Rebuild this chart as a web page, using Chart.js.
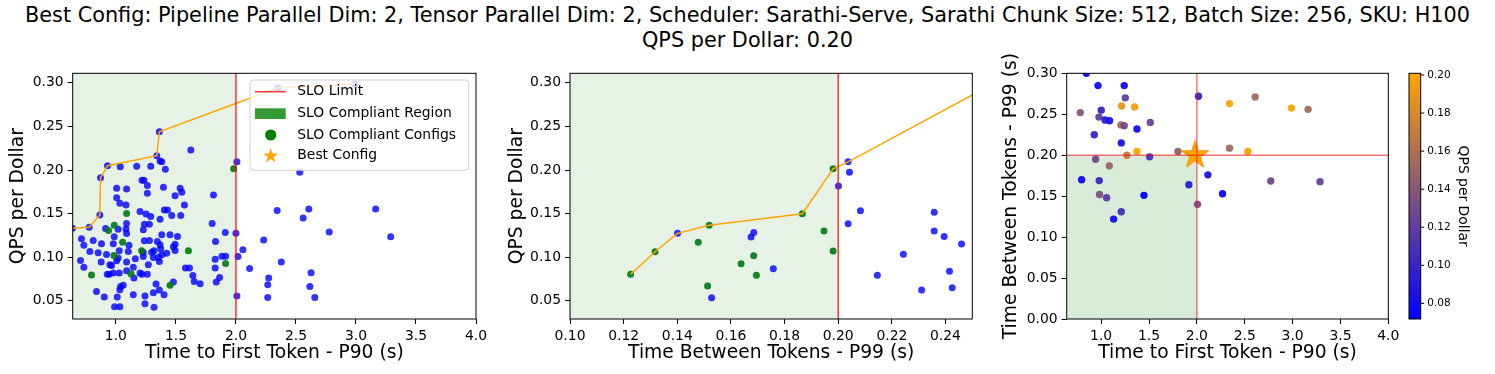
<!DOCTYPE html>
<html>
<head>
<meta charset="utf-8">
<script src="https://cdn.jsdelivr.net/npm/chart.js@4.4.0/dist/chart.umd.min.js"></script>
<style>
  body { margin: 0; background: #fff; }
  #wrap { position: relative; width: 1495px; height: 374px; overflow: hidden; }
  #title { position: absolute; left: 0; top: 3px; width: 1495px; text-align: center;
           font-family: 'DejaVu Sans'; font-size: 20.8px; line-height: 25px; color: #000; white-space: nowrap; }
  canvas { position: absolute; }
</style>
</head>
<body>
<div id="wrap">
  <div id="title">Best Config: Pipeline Parallel Dim: 2, Tensor Parallel Dim: 2, Scheduler: Sarathi-Serve, Sarathi Chunk Size: 512, Batch Size: 256, SKU: H100<br>QPS per Dollar: 0.20</div>
  <canvas id="c1" width="490" height="324" style="left:0;top:50px"></canvas>
  <canvas id="c2" width="500" height="324" style="left:490px;top:50px"></canvas>
  <canvas id="c3" width="505" height="324" style="left:990px;top:50px"></canvas>
</div>
<script>
// ---- data ----
const ttftTicks = [1.0, 1.5, 2.0, 2.5, 3.0, 3.5, 4.0];
const tbtTicks = [0.10, 0.12, 0.14, 0.16, 0.18, 0.20, 0.22, 0.24];
const qpsTicks = [0.05, 0.10, 0.15, 0.20, 0.25, 0.30];
const tbtYTicks = [0.00, 0.05, 0.10, 0.15, 0.20, 0.25, 0.30];
const cbarTicks = [0.08, 0.10, 0.12, 0.14, 0.16, 0.18, 0.20];
const ttftSlo = 2.0;
const tbtSlo = 0.2;
const cbarMin = 0.0718, cbarMax = 0.2009;

// TTFT vs QPS/$
const leftBlue = [
  [0.638,0.1332],[0.777,0.1344],[0.866,0.1485],[0.872,0.1912],[0.930,0.2050],[1.036,0.2038],[1.173,0.2042],[1.290,0.2042],
  [1.340,0.2164],[1.362,0.2440],[1.624,0.2229],[1.368,0.2103],[1.382,0.2095],[1.412,0.2008],
  [1.217,0.1882],[1.234,0.1882],[1.262,0.1821],[1.262,0.1733],[1.396,0.1802],[1.006,0.1790],[1.089,0.1782],[1.006,0.1683],
  [1.033,0.1618],[1.084,0.1599],[1.535,0.1790],[1.549,0.1744],[1.493,0.1706],[1.571,0.1599],[1.813,0.1714],
  [1.201,0.1523],[1.251,0.1496],[1.290,0.1466],[1.404,0.1542],[1.429,0.1542],[1.368,0.1435],[1.465,0.1477],[1.540,0.1477],
  [1.802,0.1386],[1.237,0.1378],[1.279,0.1378],[1.228,0.1313],[1.089,0.1386],[1.084,0.1324],
  [0.914,0.1328],[1.019,0.1321],[1.089,0.1271],[1.382,0.1256],[1.451,0.1256],[1.513,0.1237],[1.911,0.1282],
  [0.713,0.1210],[0.733,0.1137],[0.811,0.1191],[0.880,0.1153],[0.986,0.1233],[0.978,0.1153],[1.109,0.1137],[1.237,0.1187],
  [1.279,0.1191],[1.345,0.1179],[1.368,0.1141],[1.493,0.1149],[1.479,0.1118],[1.830,0.1179],
  [0.783,0.1065],[0.852,0.1050],[0.922,0.1031],[1.028,0.1073],[1.103,0.1065],[1.228,0.1057],[1.298,0.1057],[1.373,0.1095],
  [1.318,0.1073],[1.423,0.1046],[1.493,0.1076],
  [0.705,0.0962],[0.733,0.0885],[0.877,0.0943],[1.006,0.0958],[0.950,0.0912],[0.964,0.0905],[1.089,0.0943],[1.162,0.0981],
  [1.228,0.1008],[1.312,0.0996],[1.270,0.0912],[1.354,0.0996],[1.362,0.0950],[1.382,0.1027],[1.019,0.0989],[1.827,0.0977],
  [1.883,0.1011],[1.914,0.1011],[1.579,0.0874],[1.613,0.0874],[1.827,0.0874],
  [0.928,0.0805],[0.944,0.0805],[0.978,0.0817],[1.028,0.0817],[1.089,0.0844],[1.145,0.0885],[1.150,0.0760],[1.201,0.0817],
  [1.217,0.0805],[1.262,0.0805],[1.641,0.0790],[1.652,0.0721],[1.702,0.0695],[1.836,0.0714],[1.864,0.0767],[1.479,0.0714],
  [1.334,0.0691],
  [0.838,0.0607],[0.903,0.0542],[1.011,0.0542],[1.039,0.0664],[1.061,0.0676],[1.033,0.0626],[1.145,0.0569],[1.242,0.0553],
  [1.312,0.0592],[1.362,0.0622],[1.401,0.0569],[0.989,0.0431],[1.033,0.0431],[1.242,0.0466],[1.318,0.0424],
  [2.008,0.2095],[2.000,0.1275],[2.017,0.1008],[2.058,0.1084],[2.114,0.0870],[2.008,0.0553],[2.231,0.1198],[2.378,0.0944],
  [2.273,0.0760],[2.265,0.0683],[2.265,0.0538],[2.343,0.1534],[2.560,0.1448],[2.607,0.1553],[2.532,0.1973],[2.626,0.0821],
  [2.616,0.0664],[2.657,0.0538],[2.351,0.2943],[2.991,0.2985],[3.164,0.1552],[2.777,0.1288],[3.289,0.1234]
];
const leftGreen = [
  [1.981,0.2015],[1.089,0.1500],[0.986,0.1366],[0.939,0.1305],[1.056,0.1172],[0.983,0.1019],
  [1.214,0.1073],[1.604,0.1073],[1.914,0.0927],[0.797,0.0794],[1.125,0.0809],[1.451,0.0676]
];
const leftFrontier = [
  [0.638,0.1332],[0.777,0.1344],[0.866,0.1485],[0.872,0.1912],[0.930,0.2050],
  [1.340,0.2164],[1.362,0.2440],[2.351,0.2943],[2.991,0.2985]
];

// TBT vs QPS/$
const midGreen = [
  [0.1226,0.0803],[0.1317,0.1062],[0.1478,0.1170],[0.1519,0.1365],[0.1513,0.0669],[0.1638,0.0924],
  [0.1685,0.1016],[0.1695,0.0791],[0.1866,0.1498],[0.1947,0.1300],[0.1981,0.1070],[0.1981,0.2014]
];
const midBlue = [
  [0.1401,0.1273],[0.1528,0.0534],[0.1675,0.1230],[0.1685,0.1284],[0.1758,0.0867],[0.2037,0.2094],[0.2042,0.1973],
  [0.2001,0.1816],[0.2083,0.1532],[0.2037,0.1383],[0.2146,0.0791],[0.2243,0.1032],[0.2311,0.0623],[0.2358,0.1514],
  [0.2358,0.1299],[0.2395,0.1238],[0.2415,0.0837],[0.2425,0.0649],[0.2460,0.1150]
];
const midFrontier = [
  [0.1226,0.0803],[0.1317,0.1062],[0.1401,0.1273],[0.1519,0.1365],[0.1866,0.1498],
  [0.1981,0.2014],[0.2037,0.2094],[0.255,0.2943],[0.262,0.2985]
];

// TTFT vs TBT, coloured by QPS/$  [ttft, tbt, qps]
const rightPts = [
  [0.845,0.300,0.075],[0.967,0.285,0.08],[1.241,0.285,0.08],[1.252,0.270,0.12],[0.782,0.252,0.14],[1.001,0.255,0.10],
  [0.977,0.2465,0.12],[1.040,0.243,0.09],[1.088,0.242,0.085],[1.214,0.260,0.19],[1.349,0.259,0.195],[1.207,0.237,0.155],
  [1.241,0.236,0.13],[1.513,0.240,0.125],[0.928,0.225,0.10],[1.374,0.232,0.08],[1.210,0.215,0.085],[1.374,0.2045,0.20],
  [1.269,0.200,0.17],[1.802,0.2045,0.145],[1.506,0.198,0.107],[0.942,0.195,0.13],[1.085,0.187,0.15],[0.796,0.170,0.079],
  [0.980,0.169,0.10],[0.983,0.152,0.137],[1.057,0.148,0.117],[1.447,0.151,0.068],[1.130,0.122,0.081],[1.210,0.131,0.107],
  [1.916,0.164,0.093],[2.017,0.272,0.10],[2.007,0.140,0.13],[2.341,0.263,0.29],[2.341,0.2086,0.153],[2.532,0.2045,0.197],
  [2.115,0.176,0.086],[2.268,0.153,0.076],[2.609,0.271,0.155],[2.988,0.2575,0.30],[3.162,0.256,0.155],[2.772,0.1685,0.129],
  [3.287,0.1677,0.123]
];
const bestConfig = [1.98, 0.20];

// ---- helpers ----
Chart.defaults.font.family = "'DejaVu Sans'";
Chart.defaults.color = '#000';

const pts = arr => arr.map(p => ({x: p[0], y: p[1]}));

function cmap(v) {
  let t = (v - cbarMin) / (cbarMax - cbarMin);
  t = Math.max(0, Math.min(1, t));
  return 'rgba(' + Math.round(255 * t) + ',' + Math.round(165 * t) + ',' + Math.round(255 * (1 - t)) + ',0.95)';
}

function starPath(ctx, cx, cy, R) {
  const r = R * 0.382;
  ctx.beginPath();
  for (let i = 0; i < 10; i++) {
    const a = -Math.PI / 2 + i * Math.PI / 5;
    const rr = i % 2 ? r : R;
    ctx.lineTo(cx + rr * Math.cos(a), cy + rr * Math.sin(a));
  }
  ctx.closePath();
}
const starImg = document.createElement('canvas');
starImg.width = 32; starImg.height = 32;
(function () {
  const c = starImg.getContext('2d');
  starPath(c, 16, 16, 14.7);
  c.fillStyle = 'rgb(255,165,0)';
  c.fill();
  c.strokeStyle = 'rgb(245,150,0)';
  c.stroke();
})();

const TOP = 23.3;   // chart area top inside each canvas
const AXIS_TITLE = 18.7;

function axis(o) {
  return {
    type: 'linear', position: o.pos, min: o.min, max: o.max,
    afterBuildTicks: s => { s.ticks = o.ticks.map(v => ({value: v})); },
    afterFit: s => {
      if (o.pos === 'bottom') s.height = o.size; else s.width = o.size;
      s.paddingLeft = 0; s.paddingRight = 0; s.paddingTop = 0; s.paddingBottom = 0;
    },
    ticks: { callback: v => Number(v).toFixed(o.dec), color: '#000', font: {size: 13.9}, padding: 4,
             autoSkip: false, maxRotation: 0 },
    grid: { drawOnChartArea: false, drawTicks: true, tickLength: 5, tickColor: '#000', tickWidth: 1 },
    border: { display: false },
    title: { display: true, text: o.title, color: '#000', font: {size: AXIS_TITLE}, padding: o.tpad }
  };
}

const frame = {
  id: 'frame',
  afterDraw(chart) {
    const {ctx, chartArea: a} = chart;
    ctx.save();
    ctx.strokeStyle = '#000';
    ctx.lineWidth = 1;
    ctx.strokeRect(a.left, a.top, a.right - a.left, a.bottom - a.top);
    ctx.restore();
  }
};

const slo = {
  id: 'slo',
  beforeDatasetsDraw(chart, args, o) {
    const {ctx, chartArea: a, scales: {x, y}} = chart;
    const px = x.getPixelForValue(o.x);
    const py = o.y != null ? y.getPixelForValue(o.y) : a.top;
    ctx.save();
    ctx.fillStyle = o.fill;
    ctx.fillRect(a.left, py, px - a.left, a.bottom - py);
    ctx.restore();
  },
  afterDatasetsDraw(chart, args, o) {
    const {ctx, chartArea: a, scales: {x, y}} = chart;
    ctx.save();
    ctx.strokeStyle = o.line;
    ctx.lineWidth = 1.5;
    ctx.beginPath();
    const px = x.getPixelForValue(o.x);
    ctx.moveTo(px, a.top); ctx.lineTo(px, a.bottom);
    if (o.y != null) {
      const py = y.getPixelForValue(o.y);
      ctx.moveTo(a.left, py); ctx.lineTo(a.right, py);
    }
    ctx.stroke();
    ctx.restore();
  }
};

const legendBox = {
  id: 'legendBox',
  afterDraw(chart) {
    const ctx = chart.ctx;
    const a = chart.chartArea;
    const bx = 250, by = a.top + 6.7, bw = 218.7, bh = 90.3;
    const rows = [by + 11.7, by + 33.7, by + 55, by + 75.7];
    ctx.save();
    ctx.beginPath();
    ctx.roundRect(bx, by, bw, bh, 4);
    ctx.fillStyle = 'rgba(255,255,255,0.8)';
    ctx.fill();
    ctx.strokeStyle = 'rgba(204,204,204,0.9)';
    ctx.lineWidth = 1;
    ctx.stroke();
    // handles
    ctx.strokeStyle = 'rgba(255,0,0,0.8)';
    ctx.lineWidth = 1.5;
    ctx.beginPath(); ctx.moveTo(255, rows[0]); ctx.lineTo(285.7, rows[0]); ctx.stroke();
    ctx.fillStyle = 'rgba(0,128,0,0.8)';
    ctx.fillRect(255, rows[1] - 5.4, 30.7, 10.7);
    ctx.fillStyle = 'rgb(0,128,0)';
    ctx.beginPath(); ctx.arc(270.7, rows[2], 5.6, 0, Math.PI * 2); ctx.fill();
    starPath(ctx, 270.7, rows[3] + 0.3, 8);
    ctx.fillStyle = 'rgb(255,165,0)';
    ctx.fill();
    // labels
    ctx.fillStyle = '#000';
    ctx.font = "13.9px 'DejaVu Sans'";
    ctx.textBaseline = 'middle';
    ctx.fillText('SLO Limit', 297.3, rows[0]);
    ctx.fillText('SLO Compliant Region', 297.3, rows[1]);
    ctx.fillText('SLO Compliant Configs', 297.3, rows[2]);
    ctx.fillText('Best Config', 297.3, rows[3]);
    ctx.restore();
  }
};

const cbar = {
  id: 'cbar',
  afterDraw(chart) {
    const s = chart.scales.y2, ctx = chart.ctx;
    const x0 = s.left + 20.7, w = 11.7;
    const top = s.getPixelForValue(cbarMax), bot = s.getPixelForValue(cbarMin);
    ctx.save();
    const g = ctx.createLinearGradient(0, bot, 0, top);
    g.addColorStop(0, 'rgb(0,0,255)');
    g.addColorStop(1, 'rgb(255,165,0)');
    ctx.fillStyle = g;
    ctx.fillRect(x0, top, w, bot - top);
    ctx.strokeStyle = '#000';
    ctx.lineWidth = 1;
    ctx.strokeRect(x0, top, w, bot - top);
    ctx.beginPath();
    cbarTicks.forEach(t => {
      const py = s.getPixelForValue(t);
      ctx.moveTo(x0 + w, py); ctx.lineTo(x0 + w + 3.5, py);
    });
    ctx.stroke();
    ctx.restore();
  }
};

const common = { responsive: false, animation: false, events: [] };

// ---- left: TTFT vs QPS per dollar ----
new Chart(document.getElementById('c1'), {
  type: 'scatter',
  data: { datasets: [
    { data: pts(leftFrontier), showLine: true, borderColor: 'rgb(255,165,0)', borderWidth: 1.5, pointRadius: 0, order: 0 },
    { data: pts(leftGreen), backgroundColor: 'rgba(0,120,20,0.9)', pointRadius: 3.5, pointBorderWidth: 0, order: 1 },
    { data: pts(leftBlue), backgroundColor: 'rgba(0,0,255,0.8)', pointRadius: 3.5, pointBorderWidth: 0, order: 2 }
  ]},
  options: Object.assign({}, common, {
    layout: { padding: { top: TOP, right: 14, left: 0, bottom: 0 } },
    plugins: { legend: { display: false }, tooltip: { enabled: false },
               slo: { x: ttftSlo, fill: 'rgba(0,128,0,0.1)', line: 'rgba(255,0,0,0.8)' } },
    scales: {
      x: axis({ pos: 'bottom', min: 0.64, max: 4.0, ticks: ttftTicks, dec: 1, size: 55,
                title: 'Time to First Token - P90 (s)', tpad: { top: 0, bottom: 10 } }),
      y: axis({ pos: 'left', min: 0.029, max: 0.311, ticks: qpsTicks, dec: 2, size: 72.7,
                title: 'QPS per Dollar', tpad: { top: 7, bottom: 0 } })
    }
  }),
  plugins: [slo, frame, legendBox]
});

// ---- middle: TBT vs QPS per dollar ----
new Chart(document.getElementById('c2'), {
  type: 'scatter',
  data: { datasets: [
    { data: pts(midFrontier), showLine: true, borderColor: 'rgb(255,165,0)', borderWidth: 1.5, pointRadius: 0, order: 0 },
    { data: pts(midGreen), backgroundColor: 'rgba(0,120,20,0.9)', pointRadius: 3.5, pointBorderWidth: 0, order: 1 },
    { data: pts(midBlue), backgroundColor: 'rgba(0,0,255,0.8)', pointRadius: 3.5, pointBorderWidth: 0, order: 2 }
  ]},
  options: Object.assign({}, common, {
    layout: { padding: { top: TOP, right: 17.7, left: 0, bottom: 0 } },
    plugins: { legend: { display: false }, tooltip: { enabled: false },
               slo: { x: tbtSlo, fill: 'rgba(0,128,0,0.1)', line: 'rgba(255,0,0,0.8)' } },
    scales: {
      x: axis({ pos: 'bottom', min: 0.10, max: 0.25, ticks: tbtTicks, dec: 2, size: 55,
                title: 'Time Between Tokens - P99 (s)', tpad: { top: 0, bottom: 10 } }),
      y: axis({ pos: 'left', min: 0.029, max: 0.311, ticks: qpsTicks, dec: 2, size: 80,
                title: 'QPS per Dollar', tpad: { top: 16, bottom: 0 } })
    }
  }),
  plugins: [slo, frame]
});

// ---- right: TTFT vs TBT coloured by QPS per dollar ----
new Chart(document.getElementById('c3'), {
  type: 'scatter',
  data: { datasets: [
    { data: [{x: bestConfig[0], y: bestConfig[1]}], pointStyle: starImg, pointRadius: 15, order: 0 },
    { data: rightPts.map(p => ({x: p[0], y: p[1]})), backgroundColor: rightPts.map(p => cmap(p[2])),
      pointRadius: 3.7, pointBorderWidth: 0, order: 1 }
  ]},
  options: Object.assign({}, common, {
    layout: { padding: { top: TOP, right: 0, left: 0, bottom: 0 } },
    plugins: { legend: { display: false }, tooltip: { enabled: false },
               slo: { x: ttftSlo, y: tbtSlo, fill: 'rgba(0,128,0,0.15)', line: 'rgba(255,0,0,0.55)' } },
    scales: {
      x: axis({ pos: 'bottom', min: 0.64, max: 4.0, ticks: ttftTicks, dec: 1, size: 55,
                title: 'Time to First Token - P90 (s)', tpad: { top: 0, bottom: 10 } }),
      y: axis({ pos: 'left', min: 0, max: 0.30, ticks: tbtYTicks, dec: 2, size: 76.7,
                title: 'Time Between Tokens - P99 (s)', tpad: { top: 10, bottom: 0 } }),
      y2: {
        type: 'linear', axis: 'y', position: 'right', min: cbarMin, max: cbarMax,
        afterBuildTicks: s => { s.ticks = cbarTicks.map(v => ({value: v})); },
        afterFit: s => { s.width = 106.7; s.paddingTop = 0; s.paddingBottom = 0; },
        ticks: { callback: v => Number(v).toFixed(2), color: '#000', font: {size: 10.5}, padding: 31 },
        grid: { display: false },
        border: { display: false },
        title: { display: true, text: 'QPS per Dollar', color: '#000', font: {size: 13.9}, padding: { top: 24, bottom: 0 } }
      }
    }
  }),
  plugins: [slo, frame, cbar]
});
</script>
</body>
</html>
